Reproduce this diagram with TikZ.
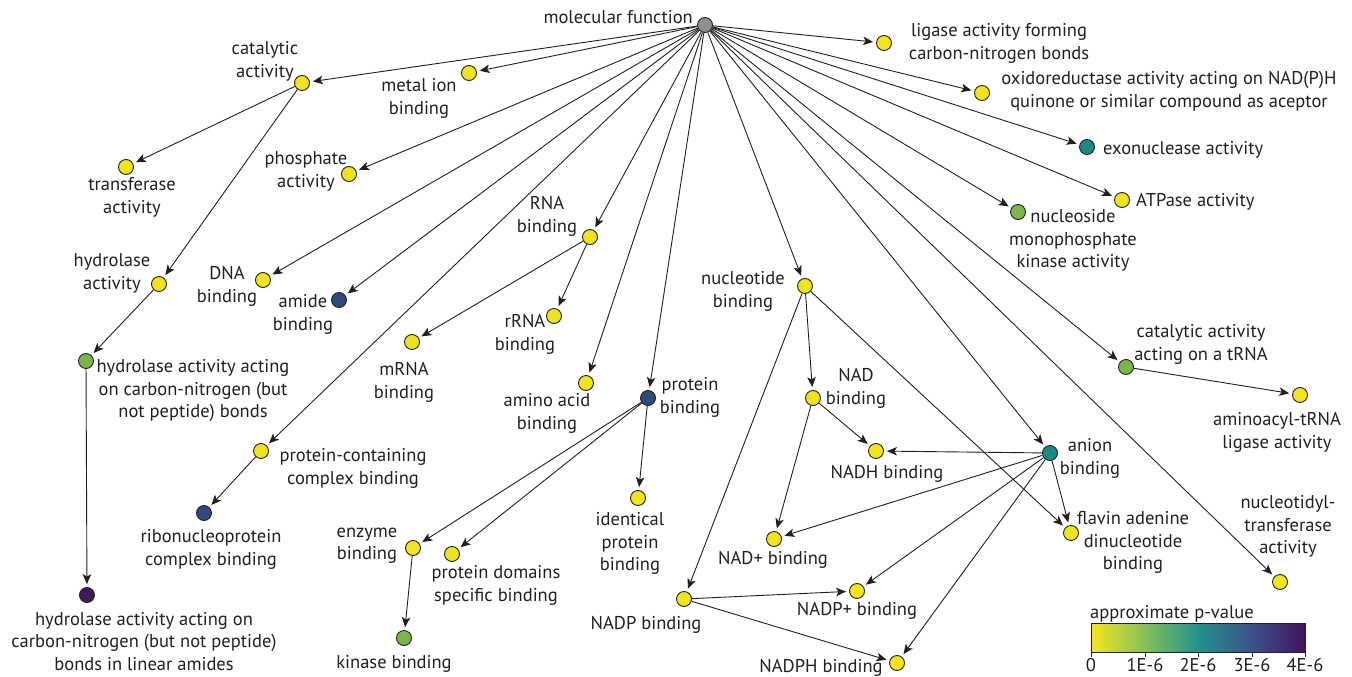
\documentclass[tikz,border=0pt]{standalone}
\usepackage{fontspec}
\setmainfont{PT Sans}
\usetikzlibrary{arrows.meta}
\definecolor{ink}{HTML}{231F20}
\definecolor{vy}{HTML}{F2E41C}
\definecolor{vg}{HTML}{7AB648}
\definecolor{vt}{HTML}{1A8A87}
\definecolor{vb}{HTML}{2E4B7C}
\definecolor{vp}{HTML}{3F1A5A}
\definecolor{vgray}{HTML}{8E8E8E}
\definecolor{cy}{HTML}{F5E61E}
\definecolor{cg}{HTML}{86C05A}
\definecolor{ct}{HTML}{21918C}
\definecolor{cb}{HTML}{3B528B}
\definecolor{cp}{HTML}{43135E}
\tikzset{
  gonode/.style={circle, draw=ink, line width=0.9pt, minimum size=15pt, inner sep=0pt},
  yc/.style={gonode, fill=vy},
  gc/.style={gonode, fill=vg},
  tc/.style={gonode, fill=vt},
  bc/.style={gonode, fill=vb},
  pc/.style={gonode, fill=vp},
  grc/.style={gonode, fill=vgray},
  lab/.style={align=center, inner sep=0pt, text=ink, yshift=-1.5pt, font=\fontsize{18.5}{22.5}\selectfont},
  edge/.style={draw=ink, line width=0.9pt, -{Stealth[length=10pt,width=8.5pt,inset=2.5pt]}, shorten >=3pt}
}
\begin{document}
\begin{tikzpicture}[x=1pt,y=-1pt]
\useasboundingbox[fill=white] (0,0) rectangle (1352,677);
% circles
\node[grc] (mf) at (705,25) {};
\node[yc] (cat) at (302,83) {};
\node[yc] (metal) at (469,73) {};
\node[yc] (trans) at (126,167) {};
\node[yc] (phos) at (349,174) {};
\node[yc] (hyd) at (159,284) {};
\node[yc] (dna) at (263,280) {};
\node[bc] (amide) at (339,300) {};
\node[gc] (hcn) at (86,361) {};
\node[pc] (hla) at (87,595) {};
\node[yc] (pcc) at (261,451) {};
\node[bc] (ribo) at (204,513) {};
\node[yc] (rna) at (590,237) {};
\node[yc] (mrna) at (412,342) {};
\node[yc] (rrna) at (554,316) {};
\node[yc] (aa) at (586,383) {};
\node[bc] (pb) at (648,398) {};
\node[yc] (enz) at (413,548) {};
\node[gc] (kin) at (404,638) {};
\node[yc] (pds) at (452,554) {};
\node[yc] (ipb) at (638,498) {};
\node[yc] (nb) at (805,286) {};
\node[yc] (nad) at (813,398) {};
\node[yc] (nadh) at (876,451) {};
\node[yc] (nadplus) at (774,539) {};
\node[yc] (nadp) at (684,599) {};
\node[yc] (nadpp) at (857,591) {};
\node[yc] (nadph) at (897,663) {};
\node[tc] (anion) at (1050,453) {};
\node[yc] (fad) at (1071,533) {};
\node[yc] (ntt) at (1280,582) {};
\node[gc] (trna) at (1126,367) {};
\node[yc] (aat) at (1300,395) {};
\node[yc] (lig) at (884,43) {};
\node[yc] (oxi) at (982,93) {};
\node[tc] (exo) at (1087,147) {};
\node[yc] (atp) at (1122,200) {};
\node[gc] (nmk) at (1018,212) {};
% labels
\node[lab, anchor=east] (mfL) at (693,16) {molecular function};
\node[lab] (catL) at (265,60) {catalytic\\activity};
\node[lab] (metalL) at (419,97) {metal ion\\binding};
\node[lab] (transL) at (132,196) {transferase\\activity};
\node[lab] (phosL) at (306,170) {phosphate\\activity};
\node[lab] (hydL) at (112,272) {hydrolase\\activity};
\node[lab] (dnaL) at (227,285) {DNA\\binding};
\node[lab] (amideL) at (303,313) {amide\\binding};
\node[lab] (hcnL) at (193,389) {hydrolase activity acting\\on carbon-nitrogen (but\\not peptide) bonds};
\node[lab] (hlaL) at (144,640) {hydrolase activity acting on\\carbon-nitrogen (but not peptide)\\bonds in linear amides};
\node[lab] (pccL) at (353,467) {protein-containing\\complex binding};
\node[lab] (riboL) at (211,548) {ribonucleoprotein\\complex binding};
\node[lab] (rnaL) at (547,215) {RNA\\binding};
\node[lab] (mrnaL) at (404,381) {mRNA\\binding};
\node[lab] (rrnaL) at (525,333) {rRNA\\binding};
\node[lab] (aaL) at (547,412) {amino acid\\binding};
\node[lab] (pbL) at (690,396) {protein\\binding};
\node[lab] (enzL) at (367,544) {enzyme\\binding};
\node[lab] (kinL) at (394,662) {kinase binding};
\node[lab] (pdsL) at (496,584) {protein domains\\specific binding};
\node[lab] (ipbL) at (630,542) {identical\\protein\\binding};
\node[lab] (nbL) at (743,290) {nucleotide\\binding};
\node[lab] (nadL) at (856,387) {NAD\\binding};
\node[lab] (nadhL) at (887,472) {NADH binding};
\node[lab] (nadplusL) at (773,558) {NAD+ binding};
\node[lab] (nadpL) at (646,623) {NADP binding};
\node[lab] (nadppL) at (857,609) {NADP+ binding};
\node[lab] (nadphL) at (821,666) {NADPH binding};
\node[lab] (anionL) at (1090,457) {anion\\binding};
\node[lab] (fadL) at (1133,541) {flavin adenine\\dinucleotide\\binding};
\node[lab] (nttL) at (1288,525) {nucleotidyl-\\transferase\\activity};
\node[lab] (trnaL) at (1201,343) {catalytic activity\\acting on a tRNA};
\node[lab] (aatL) at (1277,431) {aminoacyl-tRNA\\ligase activity};
\node[lab] (ligL) at (999,42) {ligase activity forming\\carbon-nitrogen bonds};
\node[lab] (oxiL) at (1169,90) {oxidoreductase activity acting on NAD(P)H\\quinone or similar compound as aceptor};
\node[lab, anchor=west] (exoL) at (1103,148) {exonuclease activity};
\node[lab, anchor=west] (atpL) at (1136,200) {ATPase activity};
\node[lab] (nmkL) at (1073,239) {nucleoside\\monophosphate\\kinase activity};
% edges
\foreach \t in {cat,metal,phos,dna,amide,pcc,rna,aa,pb,nb,anion,ntt,trna,nmk,atp,exo,oxi,lig}
  \draw[edge] (mf) -- (\t);
\draw[edge] (cat) -- (trans);
\draw[edge] (cat) -- (hyd);
\draw[edge] (hyd) -- (hcn);
\draw[edge] (hcn) -- (hla);
\draw[edge] (pcc) -- (ribo);
\draw[edge] (rna) -- (mrna);
\draw[edge] (rna) -- (rrna);
\draw[edge] (pb) -- (enz);
\draw[edge] (pb) -- (pds);
\draw[edge] (pb) -- (ipb);
\draw[edge] (enz) -- (kin);
\draw[edge] (nb) -- (nadp);
\draw[edge] (nb) -- (nad);
\draw[edge] (nb) -- (fad);
\draw[edge] (nad) -- (nadh);
\draw[edge] (nad) -- (nadplus);
\draw[edge] (anion) -- (nadh);
\draw[edge] (anion) -- (nadplus);
\draw[edge] (anion) -- (nadpp);
\draw[edge] (anion) -- (nadph);
\draw[edge] (anion) -- (fad);
\draw[edge] (nadp) -- (nadpp);
\draw[edge] (nadp) -- (nadph);
\draw[edge] (trna) -- (aat);
% colour bar
\shade[left color=cy, right color=cg] (1091,623) rectangle (1145.3,652);
\shade[left color=cg, right color=ct] (1144.7,623) rectangle (1198.3,652);
\shade[left color=ct, right color=cb] (1197.7,623) rectangle (1252.3,652);
\shade[left color=cb, right color=cp] (1251.7,623) rectangle (1305,652);
\node[draw=ink, line width=0.9pt, minimum width=214pt, minimum height=29pt, inner sep=0pt, anchor=north west] (bar) at (1091,623) {};
\foreach \x/\l in {1091/0,1145/1E-6,1198/2E-6,1252/3E-6,1305/4E-6}{
  \draw[ink, line width=0.9pt] (\x,652) -- (\x,657);
  \node[lab, anchor=base, yshift=1.5pt] at (\x,671) {\l};
}
\node[lab, anchor=base west, yshift=1.5pt] (barT) at (1090,618) {approximate p-value};
\end{tikzpicture}
\end{document}
